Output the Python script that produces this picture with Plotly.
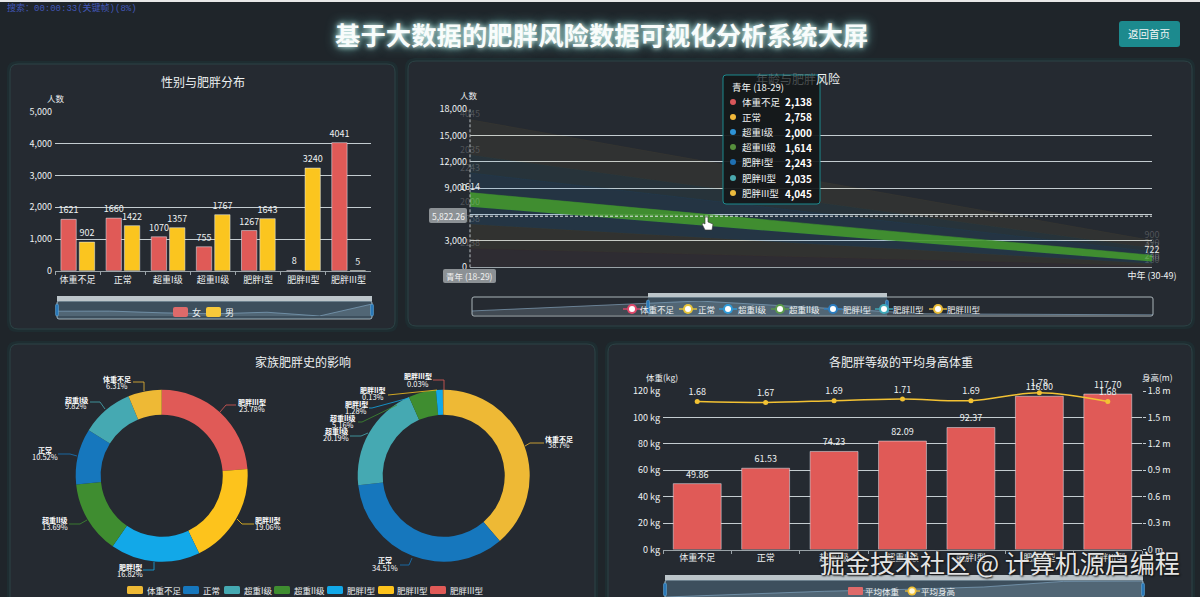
import plotly.graph_objects as go

# ---------- data ----------
levels = ["体重不足", "正常", "超重I级", "超重II级", "肥胖I型", "肥胖II型", "肥胖III型"]
female = [1621, 1660, 1070, 755, 1267, 8, 4041]
male = [902, 1422, 1357, 1767, 1643, 3240, 5]

ages = ["青年 (18-29)", "中年 (30-49)"]
age_under = [2138, 180]
age_normal = [2758, 230]
age_over1 = [2000, 240]
age_over2 = [1614, 722]
age_ob1 = [2243, 412]
age_ob2 = [2035, 390]
age_ob3 = [4045, 900]
age_shadow_cats = ["少年", "青年", "中年", "老年"]
age_shadow = [620, 2138, 180, 20]
crosshair_value = 5822.26

family_yes = [6.31, 10.52, 9.82, 13.69, 16.82, 19.06, 23.78]
family_no = [38.7, 34.51, 20.19, 5.16, 1.28, 0.13, 0.03]

avg_weight = [49.86, 61.53, 74.23, 82.09, 92.37, 116.00, 117.70]
avg_height = [1.68, 1.67, 1.69, 1.71, 1.69, 1.78, 1.68]

height_ticks = [0, 0.3, 0.6, 0.9, 1.2, 1.5, 1.8]
height_tick_labels = ["0 m", "0.3 m", "0.6 m", "0.9 m", "1.2 m", "1.5 m", "1.8 m"]

# ---------- style ----------
FONT = "Noto Sans CJK SC"
W, H = 1200, 597
RED, YEL = "#e05a57", "#fbc51f"
TXT = "#eef1f2"
GRID = "#c4ccd0"
PANEL = "#252a31"
BG = "#1f252a"
pie_cols = ["#eeb935", "#1677bd", "#45a9b2", "#3f8d30", "#12a8e8", "#fdc31c", "#e05a57"]
tip_cols = ["#d9575a", "#f3b93a", "#2e93d6", "#568f3c", "#1f70b2", "#4aa8ae", "#ecbb3e"]
stack_fill = ["rgba(224,90,87,0.05)", "rgba(250,195,40,0.06)", "rgba(30,130,200,0.13)", "rgba(66,150,48,0.92)",
              "rgba(30,120,190,0.13)", "rgba(70,170,180,0.07)", "rgba(240,190,60,0.06)"]
stack_text = ["rgba(255,255,255,0.2)"] * 3 + ["rgba(255,255,255,0.9)"] + ["rgba(255,255,255,0.2)"] * 3


def X(p): return p / W
def Y(p): return 1 - p / H


fig = go.Figure()
shapes, notes = [], []


def rrect(x0, y0, x1, y1, r, fill, line="rgba(0,0,0,0)", lw=1, layer="below"):
    path = (f"M {X(x0+r)} {Y(y0)} L {X(x1-r)} {Y(y0)} Q {X(x1)} {Y(y0)} {X(x1)} {Y(y0+r)} "
            f"L {X(x1)} {Y(y1-r)} Q {X(x1)} {Y(y1)} {X(x1-r)} {Y(y1)} L {X(x0+r)} {Y(y1)} "
            f"Q {X(x0)} {Y(y1)} {X(x0)} {Y(y1-r)} L {X(x0)} {Y(y0+r)} Q {X(x0)} {Y(y0)} {X(x0+r)} {Y(y0)} Z")
    shapes.append(dict(type="path", path=path, xref="paper", yref="paper", fillcolor=fill,
                       line=dict(color=line, width=lw), layer=layer))


def poly(points, color, lw=0.8, layer="above", dash="solid"):
    path = "M " + " L ".join(f"{X(a)} {Y(b)}" for a, b in points)
    shapes.append(dict(type="path", path=path, xref="paper", yref="paper",
                       line=dict(color=color, width=lw, dash=dash), layer=layer))


def circle(x, y, r, fill, layer="above"):
    shapes.append(dict(type="circle", xref="paper", yref="paper", x0=X(x - r), x1=X(x + r), y0=Y(y + r), y1=Y(y - r),
                       fillcolor=fill, line=dict(width=0), layer=layer))


def note(x, y, text, size=9, color=TXT, anchor="center", **kw):
    notes.append(dict(x=X(x), y=Y(y), xref="paper", yref="paper", text=text, showarrow=False, xanchor=anchor,
                      yanchor="middle", font=dict(family=kw.pop("family", FONT), size=size, color=color,
                                                  **({"shadow": kw.pop("shadow")} if "shadow" in kw else {})),
                      borderpad=0, **kw))


# ---------- page ----------
shapes.append(dict(type="rect", xref="paper", yref="paper", x0=0, x1=1, y0=Y(2), y1=1, fillcolor="#e8e8e8",
                   line=dict(width=0), layer="below"))
for box in [(10, 64, 395, 329), (408, 61, 1192, 326), (10, 344, 595, 610), (608, 344, 1192, 610)]:
    rrect(box[0] - 3, box[1] - 3, box[2] + 3, box[3] + 3, 10, "rgba(28,120,120,0.10)")
    rrect(*box, 8, PANEL, line="#2c4346", lw=1)

note(6, 8, "搜索：00:00:33(关键帧)(8%)", size=9, color="#4257b8", anchor="left",
     family="Liberation Mono, Noto Sans CJK SC")
note(601, 34, "<b>基于大数据的肥胖风险数据可视化分析系统大屏</b>", size=25.4, color="#f8fcfb",
     shadow="0 0 5px #dff5f2, 0 0 12px #6fcfc9")
rrect(1119, 21, 1180, 47, 3, "#1c8a8e")
note(1149, 34, "返回首页", size=10.5, color="#f2f6f6")

note(203, 82, "性别与肥胖分布", size=12)
note(786, 79, "年龄与肥胖", size=12, color="rgba(230,240,240,0.25)")
note(828, 79, "风险", size=12)
note(303, 361, "家族肥胖史的影响", size=12)
note(901, 361, "各肥胖等级的平均身高体重", size=12)

note(56, 98, "人数", size=8.5)
note(469, 95, "人数", size=8.5)
note(662, 377, "体重(kg)", size=8.5)
note(1157, 377, "身高(m)", size=8.5)

axis_common = dict(tickfont=dict(family=FONT, size=9, color=TXT), automargin=False, tickangle=0)


def y_axis(domain_top, domain_bot, x_name, rng, **kw):
    d = dict(domain=[Y(domain_bot), Y(domain_top)], anchor=x_name, range=rng, showgrid=True, gridcolor=GRID,
             gridwidth=1, zeroline=False, showline=False, ticks="", **axis_common)
    d.update(kw)
    return d


def x_axis(x0, x1, y_name, **kw):
    d = dict(domain=[X(x0), X(x1)], anchor=y_name, type="category", showgrid=False, zeroline=False, showline=True,
             linecolor="#9aa3a8", linewidth=1, ticks="outside", ticklen=3, tickcolor="#9aa3a8",
             **axis_common)
    d.update(kw)
    return d


# ---------- panel 1 ----------
lbl = dict(family=FONT, size=9, color=TXT)
fig.add_bar(x=levels, y=female, name="女", marker_color=RED, width=0.34, offset=-0.369, text=female,
            textposition="outside", constraintext="none", textfont=lbl, cliponaxis=False, xaxis="x", yaxis="y",
            showlegend=False)
fig.add_bar(x=levels, y=male, name="男", marker_color=YEL, width=0.34, offset=0.038, text=male,
            textposition="outside", constraintext="none", textfont=lbl, cliponaxis=False, xaxis="x", yaxis="y",
            showlegend=False)

# ---------- panel 2 ----------
stack = [age_under, age_normal, age_over1, age_over2, age_ob1, age_ob2, age_ob3]
for i, name in enumerate(levels):
    fig.add_scatter(x=ages, y=stack[i], name=name, mode="lines+text", stackgroup="age", text=stack[i],
                    textposition="top center", textfont=dict(family=FONT, size=9, color=stack_text[i]),
                    line=dict(width=0.6, color=stack_fill[i]), fillcolor=stack_fill[i], cliponaxis=False,
                    xaxis="x2", yaxis="y2", showlegend=False)

# ---------- panel 4 ----------
fig.add_bar(x=levels, y=avg_weight, name="平均体重", marker_color=RED, width=0.7,
            text=[f"{v:.2f}" for v in avg_weight], textposition="outside", constraintext="none", textfont=lbl,
            cliponaxis=False, xaxis="x3", yaxis="y3", showlegend=False)
fig.add_scatter(x=levels, y=avg_height, name="平均身高", mode="lines+markers+text", line=dict(color="#f3c233", width=1.5,
                shape="spline"), marker=dict(size=5, color="#f3c233"), text=[f"{v:.2f}" for v in avg_height],
                textposition="top center", textfont=lbl, cliponaxis=False, xaxis="x3", yaxis="y4", showlegend=False)

# ---------- data zoom shadows ----------
shadow = dict(mode="lines", line=dict(color="rgba(150,185,215,0.55)", width=1), fill="tozeroy",
              fillcolor="rgba(170,190,205,0.22)", showlegend=False)
fig.add_scatter(x=levels, y=female, xaxis="x5", yaxis="y5", **shadow)
fig.add_scatter(x=age_shadow_cats, y=age_shadow, xaxis="x6", yaxis="y6", **shadow)
fig.add_scatter(x=levels, y=avg_weight, xaxis="x7", yaxis="y7", **shadow)


def mini_axes(x0, x1, top, bot, yr):
    return (dict(domain=[X(x0), X(x1)], anchor="free", visible=False, type="category", automargin=False),
            dict(domain=[Y(bot), Y(top)], visible=False, range=yr, automargin=False))


def slider(x0, x1, top, bot, sel0, sel1, bar_top):
    rrect(x0, top, x1, bot, 2, "rgba(0,0,0,0)", line="#aab4b9", lw=1)
    shapes.append(dict(type="rect", xref="paper", yref="paper", x0=X(sel0), x1=X(sel1), y0=Y(bot), y1=Y(top),
                       fillcolor="rgba(125,175,210,0.28)", line=dict(width=0), layer="above"))
    shapes.append(dict(type="rect", xref="paper", yref="paper", x0=X(sel0), x1=X(sel1), y0=Y(top), y1=Y(bar_top),
                       fillcolor="#bcc5ca", line=dict(width=0), layer="above"))
    for s in (sel0, sel1):
        rrect(s - 1.5, top + 3, s + 1.5, min(bot - 3, 596), 1.5, "#2a78b8", line="#6db0dc", lw=0.5, layer="above")


slider(57, 372, 301, 319, 57, 372, 296)
slider(472, 1153, 297, 316, 648, 887, 293)
slider(665, 1143, 580, 610, 665, 1143, 575)

# ---------- legends ----------
rrect(173, 307, 188, 317, 2, "#de6a6a", layer="above")
note(196, 312, "女", size=9)
rrect(206, 307, 221, 317, 2, "#f8c93a", layer="above")
note(229, 312, "男", size=9)

legend2 = [(632, "#e0486a", 657, "体重不足"), (688, "#e6c43a", 707, "正常"), (728, "#2f9ad8", 752, "超重I级"),
           (780, "#5a9a4a", 805, "超重II级"), (833, "#2b7dc0", 857, "肥胖I型"), (884, "#3fa8b8", 909, "肥胖II型"),
           (938, "#e8bb38", 963, "肥胖III型")]
for (cx, c, tx, name) in legend2:
    poly([(cx - 9, 309), (cx + 9, 309)], c, 1.4)
    circle(cx, 309, 5, c)
    circle(cx, 309, 3, "#ffffff")
    note(tx, 309, name, size=8.5)

legend3 = [(127, 146), (183, 202), (224, 243), (274, 293), (327, 346), (378, 396), (430, 449)]
for (sx, tx), c, name in zip(legend3, pie_cols, levels):
    rrect(sx, 586, sx + 16, 594, 1.5, c, layer="above")
    note(tx, 590, name, size=8.5, anchor="left")

rrect(848, 587, 863, 595, 1, "#de6a6a", layer="above")
note(882, 591, "平均体重", size=8.5)
poly([(905, 591), (920, 591)], "#f3c233", 1.2)
circle(912, 591, 4.5, "#f3c233")
circle(912, 591, 2.8, "#fff8d8")
note(938, 591, "平均身高", size=8.5)

# ---------- pies ----------
def pie(cx, cy, r, vals):
    fig.add_pie(labels=levels, values=vals, hole=0.71, sort=True, direction="clockwise", rotation=0,
                marker=dict(colors=pie_cols, line=dict(width=0)), textinfo="none", showlegend=False,
                domain=dict(x=[X(cx - r), X(cx + r)], y=[Y(cy + r), Y(cy - r)]))


pie(161.7, 475.7, 86, family_yes)
pie(443.7, 475.7, 86, family_no)

pie1_layout = {
    6: (252, 402, 408, RED, [(220, 412), (226, 405), (236, 405)]),
    5: (268, 520, 526, YEL, [(237, 519), (242, 524), (254, 524)]),
    4: (130, 567, 573, "#12a8e8", [(154, 562), (154, 570), (143, 570)]),
    3: (55, 520, 526, "#3f8d30", [(87, 520), (80, 524), (69, 524)]),
    1: (45, 450, 456, "#1677bd", [(77, 456), (70, 454), (58, 454)]),
    2: (76, 400, 405, "#45a9b2", [(105, 409), (100, 402), (90, 402)]),
    0: (117, 379, 385, "#eeb935", [(144, 391), (144, 382), (133, 382)]),
}
pie2_layout = {
    0: (559, 439, 444, "#eeb935", [(525, 446), (530, 443), (544, 443)]),
    1: (385, 560, 567, "#1677bd", [(412, 558), (409, 565), (400, 565)]),
    2: (336, 431, 437, "#45a9b2", [(368, 433), (361, 436), (350, 436)]),
    3: (343, 418, 424, "#3f8d30", [(397, 405), (362, 422), (358, 422)]),
    4: (356, 404, 410, "#12a8e8", [(409, 398), (372, 408), (369, 408)]),
    5: (373, 390, 396, YEL, [(437, 390), (388, 395)]),
    6: (418, 376, 383, RED, [(444, 390), (444, 380), (433, 380)]),
}
for lay, vals in ((pie1_layout, family_yes), (pie2_layout, family_no)):
    for i, (tx, y1, y2, c, pts) in lay.items():
        poly(pts, c, 0.8)
        note(tx, y1, f"<b>{levels[i]}</b>", size=7, color="#ffffff")
        note(tx, y2, f"{vals[i]}%", size=7.5, color="#ffffff")

# ---------- crosshair, tooltip ----------
shapes.append(dict(type="line", xref="x2 domain", yref="y2", x0=0, x1=1, y0=crosshair_value, y1=crosshair_value,
                   line=dict(color="#e6e8e8", width=1, dash="3px,2px"), layer="above"))
shapes.append(dict(type="line", xref="x2 domain", yref="y2 domain", x0=0, x1=0, y0=0, y1=1,
                   line=dict(color="#b8bec2", width=1, dash="3px,2px"), layer="above"))
rrect(429, 208, 467, 223, 2, "#8c9195", layer="above")
note(448, 215.5, f"{crosshair_value:,.2f}", size=8.5, color="#f2f2f2")
rrect(443, 269, 496, 283, 2, "#8c9195", layer="above")
note(469.5, 276, ages[0], size=8.5, color="#f2f2f2")

rrect(723, 75, 820, 204, 3, "rgba(20,24,26,0.93)", line="#1c8a8e", lw=1, layer="above")
note(731, 87, ages[0], size=9.5, color="#f2f4f4", anchor="left")
row_y = [102, 117, 132, 147, 162, 178, 193]
for i, name in enumerate(levels):
    circle(733, row_y[i], 3, tip_cols[i])
    note(741, row_y[i], name, size=9.5, anchor="left")
    note(813, row_y[i], f"<b>{stack[i][0]:,}</b>", size=10, color="#ffffff", anchor="right")

# hand cursor
hand = [(705, 217), (705, 224), (703, 223), (702, 224), (705, 230), (712, 230), (713, 224), (708, 222), (708, 217)]
shapes.append(dict(type="path", path="M " + " L ".join(f"{X(a)} {Y(b)}" for a, b in hand) + " Z", xref="paper",
                   yref="paper", fillcolor="#ffffff", line=dict(color="#333333", width=0.6), layer="above"))

# ---------- watermark ----------
note(1000, 562, "掘金技术社区 @ 计算机源启编程", size=25, color="#e4e4e4", shadow="0 0 2px #111, 1px 1px 2px #111")

x5, y5 = mini_axes(57, 372, 304, 316, [0, 4041])
x6, y6 = mini_axes(472, 1153, 301, 315, [0, 2138])
x7, y7 = mini_axes(665, 1143, 581, 597, [49.86, 117.7])

fig.update_layout(
    width=W, height=H, autosize=False, margin=dict(l=0, r=0, t=0, b=0, autoexpand=False), paper_bgcolor=BG,
    plot_bgcolor="rgba(0,0,0,0)",
    barmode="overlay", hovermode=False, shapes=shapes, annotations=notes, font=dict(family=FONT, color=TXT),
    xaxis=x_axis(55, 371, "y", tickson="boundaries"),
    yaxis=y_axis(112.3, 270.7, "x", [0, 5000], tickformat=",d", dtick=1000, ticklabelstandoff=2),
    xaxis2=x_axis(470, 1152, "y2", range=[0, 1], tickvals=[1], ticktext=[ages[1]], ticks=""),
    yaxis2=y_axis(109.3, 267.3, "x2", [0, 18000], tickformat=",d", dtick=3000, ticklabelstandoff=2),
    xaxis3=x_axis(663, 1142, "y3", tickson="boundaries"),
    yaxis3=y_axis(391, 549.5, "x3", [0, 120], dtick=20, ticksuffix=" kg", ticklabelstandoff=2),
    yaxis4=dict(domain=[Y(549.5), Y(391)], anchor="x3", overlaying="y3", side="right", range=[0, 1.8],
                tickvals=height_ticks, ticktext=height_tick_labels, showgrid=False, zeroline=False, ticks="outside",
                ticklen=3, tickcolor=GRID, **axis_common),
    xaxis5=x5, yaxis5=y5, xaxis6=x6, yaxis6=y6, xaxis7=x7, yaxis7=y7,
)

fig.write_html("out.html", config={"displayModeBar": False},
               post_script="document.body.style.margin='0';document.body.style.overflow='hidden';")
